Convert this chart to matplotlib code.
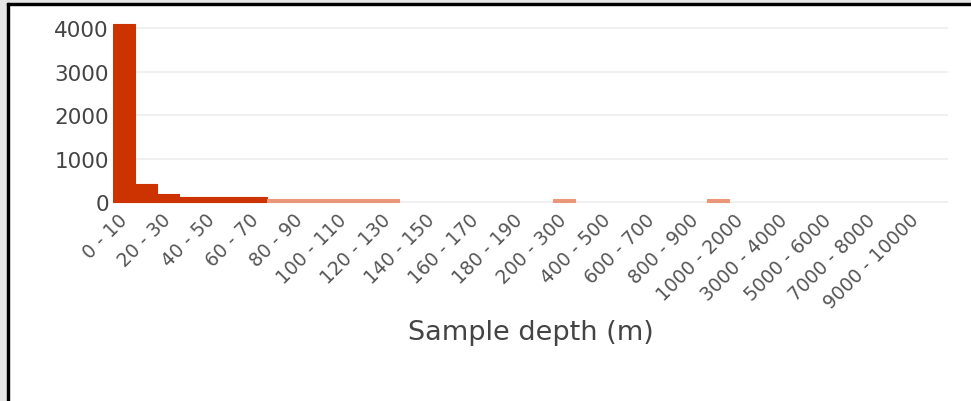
import matplotlib
matplotlib.use("Agg")
import matplotlib.pyplot as plt
from matplotlib.patches import Rectangle

# depth bins: 10 m up to 200, 100 m up to 1000, 1000 m up to 10000
bins = ([f"{a} - {a + 10}" for a in range(0, 200, 10)]
        + [f"{a} - {a + 100}" for a in range(200, 1000, 100)]
        + [f"{a} - {a + 1000}" for a in range(1000, 10000, 1000)])

# sample counts (0 = empty bin)
counts = [4100, 415, 184, 120, 120, 120, 120, 75, 75, 75, 75, 75, 75,
          0, 0, 0, 0, 0, 0, 0,
          75, 0, 0, 0, 0, 0, 0, 75,
          0, 0, 0, 0, 0, 0, 0, 0, 0]

dark = "#cc3300"
light = "#e9967a"
colors = [dark if c > 100 else light for c in counts]
edges = [c if n > 0 else "none" for c, n in zip(colors, counts)]

W, H = 971, 402
fig = plt.figure(figsize=(W / 100, H / 100), dpi=100)

# screenshot frame: grey margin with a black border on top and left
fig.patches.append(Rectangle((0, 0), 7 / W, 1, transform=fig.transFigure,
                             color="#e6e6e6", zorder=0))
fig.patches.append(Rectangle((0, 1 - 4 / H), 1, 4 / H, transform=fig.transFigure,
                             color="#e6e6e6", zorder=0))
fig.patches.append(Rectangle((7 / W, 0), 2 / W, 1 - 4 / H, transform=fig.transFigure,
                             color="black", zorder=1))
fig.patches.append(Rectangle((7 / W, 1 - 6 / H), 1 - 7 / W, 2 / H, transform=fig.transFigure,
                             color="black", zorder=1))

ax = fig.add_axes([113 / W, (H - 205.2) / H, (948 - 113) / W, 184.5 / H])
x = list(range(len(bins)))
ax.bar(x, counts, width=1.0, color=colors, edgecolor=edges, linewidth=0.8, zorder=3)

ax.set_xlim(-0.5, 37.45)
ax.set_ylim(-50, 4200)
ax.set_yticks([0, 1000, 2000, 3000, 4000])
ax.yaxis.grid(True, color="#eeeeee", linewidth=1.2, zorder=0)
ax.set_axisbelow(True)

ax.set_xticks(x[::2])
ax.set_xticklabels(bins[::2], rotation=45, ha="right", va="center",
                   rotation_mode="anchor")
ax.tick_params(axis="x", length=0, pad=9, labelsize=13.5, labelcolor="#555555")
ax.tick_params(axis="y", length=0, pad=3, labelsize=15.5, labelcolor="#444444")
for s in ax.spines.values():
    s.set_visible(False)

fig.text(531 / W, (H - 333) / H, "Sample depth (m)", ha="center", va="center",
         fontsize=19.5, color="#444444")

fig.savefig("out.png", dpi=100)
